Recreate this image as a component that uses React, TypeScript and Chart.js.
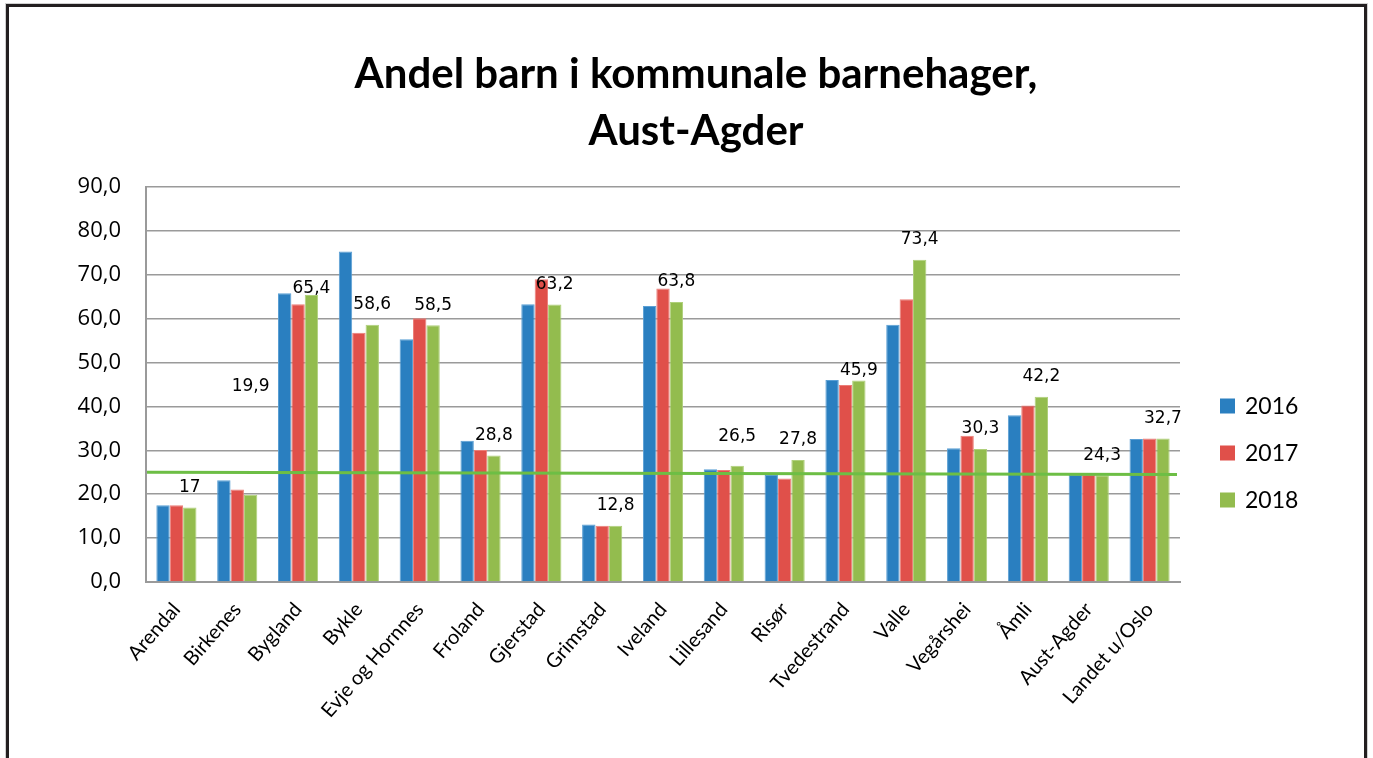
import React, { useEffect, useRef } from "react";
import { Chart, registerables } from "chart.js";

Chart.register(...registerables);

const titleLines = ["Andel barn i kommunale barnehager,", "Aust-Agder"];
const categories = [
  "Arendal", "Birkenes", "Bygland", "Bykle", "Evje og Hornnes", "Froland", "Gjerstad",
  "Grimstad", "Iveland", "Lillesand", "Risør", "Tvedestrand", "Valle", "Vegårshei",
  "Åmli", "Aust-Agder", "Landet u/Oslo",
];
const seriesNames = ["2016", "2017", "2018"];
const values2016 = [17.5, 23.2, 65.8, 75.3, 55.3, 32.2, 63.3, 13.1, 62.9, 25.7, 24.4, 46.0, 58.6, 30.5, 38.0, 24.4, 32.6];
const values2017 = [17.5, 21.1, 63.3, 56.8, 60.1, 30.1, 69.0, 12.8, 66.9, 25.5, 23.6, 44.9, 64.4, 33.3, 40.2, 24.4, 32.7];
const values2018 = [17, 19.9, 65.4, 58.6, 58.5, 28.8, 63.2, 12.8, 63.8, 26.5, 27.8, 45.9, 73.4, 30.3, 42.2, 24.3, 32.7];
// value level at which a moved data label sits (null = on its own bar)
const labelAnchor: (number | null)[] = [null, 40, 62.4, null, null, null, null, null, null, 28.5, null, 43.6, null, null, null, null, null];
// reference line (value at left edge, value at right edge)
const refLine = [25.0, 24.5];
const yTickMin = 0;
const yTickMax = 90;
const yTickStep = 10;

const colors = ["#2A7FC0", "#E0504A", "#93BC4E"];
const edgeColors = ["#5A9FD4", "#EC7D78", "#AFD07A"];
const lineColor = "#6DBE45";

const fmt = (v: number) => String(v).replace(".", ",");

export default function App() {
  const ref = useRef<HTMLCanvasElement>(null);

  useEffect(() => {
    const canvas = ref.current;
    if (!canvas) return;

    const titlePlugin = {
      id: "customTitle",
      afterDraw(chart: any) {
        const ctx = chart.ctx;
        ctx.save();
        ctx.font = "bold 42px Lato";
        ctx.fillStyle = "#000";
        ctx.textAlign = "center";
        ctx.textBaseline = "middle";
        titleLines.forEach((t, i) => ctx.fillText(t, 696, 74 + i * 57));
        ctx.restore();
      },
    };

    const legendPlugin = {
      id: "customLegend",
      afterDraw(chart: any) {
        const ctx = chart.ctx;
        const area = chart.chartArea;
        ctx.save();
        ctx.font = "23px Lato";
        ctx.textBaseline = "middle";
        ctx.textAlign = "left";
        seriesNames.forEach((name, i) => {
          const cy = area.top + 219 + i * 47;
          const bx = area.right + 40;
          ctx.fillStyle = colors[i];
          ctx.fillRect(bx, cy - 7.5, 15, 15);
          ctx.fillStyle = "#000";
          ctx.fillText(name, bx + 25, cy + 1);
        });
        ctx.restore();
      },
    };

    const refLinePlugin = {
      id: "refLine",
      afterDatasetsDraw(chart: any) {
        const ctx = chart.ctx;
        const area = chart.chartArea;
        const y = chart.scales.y;
        ctx.save();
        ctx.strokeStyle = lineColor;
        ctx.lineWidth = 3;
        ctx.beginPath();
        ctx.moveTo(area.left + 1, y.getPixelForValue(refLine[0]));
        ctx.lineTo(area.right - 3, y.getPixelForValue(refLine[1]));
        ctx.stroke();
        ctx.restore();
      },
    };

    const labelPlugin = {
      id: "dataLabels",
      afterDatasetsDraw(chart: any) {
        const ctx = chart.ctx;
        const meta = chart.getDatasetMeta(2);
        const y = chart.scales.y;
        ctx.save();
        ctx.font = "17px 'DejaVu Sans'";
        ctx.fillStyle = "#000";
        ctx.textAlign = "center";
        ctx.textBaseline = "middle";
        meta.data.forEach((bar: any, i: number) => {
          const v = values2018[i];
          const a = labelAnchor[i] ?? v;
          ctx.fillText(fmt(v), bar.x, y.getPixelForValue(a) - 20);
        });
        ctx.restore();
      },
    };

    const chart = new Chart(canvas, {
      type: "bar",
      data: {
        labels: categories,
        datasets: [values2016, values2017, values2018].map((d, i) => ({
          label: seriesNames[i],
          data: d,
          backgroundColor: colors[i],
          borderColor: edgeColors[i],
          borderWidth: { top: 1, left: 1, right: 1, bottom: 0 },
        })),
      },
      options: {
        responsive: false,
        animation: false,
        devicePixelRatio: 1,
        layout: { padding: { left: 0, right: 193, top: 187, bottom: 0 } },
        plugins: {
          legend: { display: false },
          title: { display: false },
          tooltip: { enabled: false },
        },
        scales: {
          x: {
            type: "category",
            grid: { display: false, drawTicks: false },
            border: { display: true, color: "#9a9a9a", width: 2 },
            ticks: {
              color: "#000",
              font: { family: "Lato", size: 20 },
              maxRotation: 49,
              minRotation: 49,
              autoSkip: false,
              padding: 16,
            },
            afterFit(scale: any) {
              scale.height = 176;
            },
          },
          y: {
            min: yTickMin,
            max: yTickMax,
            ticks: {
              stepSize: yTickStep,
              color: "#000",
              font: { family: "Open Sans", size: 22 },
              padding: 25,
              callback: (v: any) => Number(v).toFixed(1).replace(".", ","),
            },
            grid: { color: "#9a9a9a", lineWidth: 1.5, drawTicks: false },
            border: { display: true, color: "#9a9a9a", width: 2 },
            afterFit(scale: any) {
              scale.width = 146;
            },
          },
        },
        datasets: { bar: { categoryPercentage: 0.66, barPercentage: 1.0 } },
      },
      plugins: [titlePlugin, refLinePlugin, labelPlugin, legendPlugin],
    } as any);

    return () => chart.destroy();
  }, []);

  return (
    <div style={{ position: "fixed", left: 0, top: 0, width: 1373, height: 758, overflow: "hidden", background: "#fff" }}>
      <canvas ref={ref} width={1373} height={758} style={{ position: "absolute", left: 0, top: 0 }} />
      <div
        style={{
          position: "absolute",
          left: 6,
          top: 4,
          width: 1361,
          height: 800,
          border: "3px solid #231f20",
          boxSizing: "border-box",
          outline: "1px solid #d0d0d0",
          pointerEvents: "none",
        }}
      />
    </div>
  );
}
